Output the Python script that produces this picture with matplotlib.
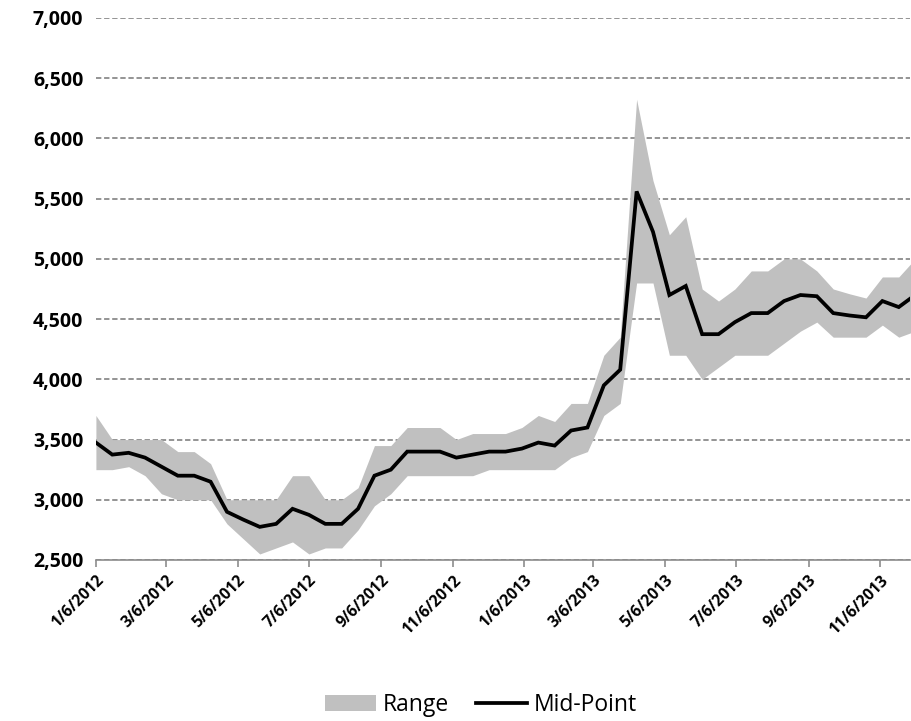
import matplotlib
matplotlib.use('Agg')
import matplotlib.pyplot as plt
from matplotlib.patches import Patch
from matplotlib.lines import Line2D
from matplotlib.ticker import FuncFormatter
import pandas as pd

# biweekly observations starting 1/6/2012
start_date = '2012-01-06'
n_points = 51

range_low = [3250, 3250, 3275, 3200, 3050, 3000, 3000, 3000, 2800, 2675,
             2550, 2600, 2650, 2550, 2600, 2600, 2750, 2950, 3050, 3200,
             3200, 3200, 3200, 3200, 3250, 3250, 3250, 3250, 3250, 3350,
             3400, 3700, 3800, 4800, 4800, 4200, 4200, 4000, 4100, 4200,
             4200, 4200, 4300, 4400, 4475, 4350, 4350, 4350, 4450, 4350,
             4400]
range_high = [3700, 3500, 3500, 3500, 3500, 3400, 3400, 3300, 3000, 3000,
              3000, 3000, 3200, 3200, 3000, 3000, 3100, 3450, 3450, 3600,
              3600, 3600, 3500, 3550, 3550, 3550, 3600, 3700, 3650, 3800,
              3800, 4200, 4350, 6325, 5650, 5200, 5350, 4750, 4650, 4750,
              4900, 4900, 5000, 5000, 4900, 4750, 4710, 4675, 4850, 4850,
              5000]
mid_point = [3475, 3375, 3390, 3350, 3275, 3200, 3200, 3150, 2900, 2835,
             2775, 2800, 2925, 2875, 2800, 2800, 2925, 3200, 3250, 3400,
             3400, 3400, 3350, 3375, 3400, 3400, 3425, 3475, 3450, 3575,
             3600, 3950, 4080, 5560, 5225, 4700, 4775, 4375, 4375, 4475,
             4550, 4550, 4650, 4700, 4690, 4550, 4530, 4515, 4650, 4600,
             4700]

tick_labels = ['1/6/2012', '3/6/2012', '5/6/2012', '7/6/2012', '9/6/2012',
               '11/6/2012', '1/6/2013', '3/6/2013', '5/6/2013', '7/6/2013',
               '9/6/2013', '11/6/2013']
y_ticks = [2500, 3000, 3500, 4000, 4500, 5000, 5500, 6000, 6500, 7000]

dates = pd.date_range(start_date, periods=n_points, freq='14D')
tick_dates = pd.to_datetime(tick_labels, format='%m/%d/%Y')

plt.rcParams['font.family'] = ['Open Sans', 'DejaVu Sans']

fig = plt.figure(figsize=(9.11, 7.21), dpi=100)
ax = fig.add_axes([95.9 / 911, 1 - 560 / 721, (910 - 95.9) / 911, (560 - 18) / 721])

band_color = '#c0c0c0'
ax.fill_between(dates, range_low, range_high, color=band_color, linewidth=0, zorder=2)
ax.plot(dates, mid_point, color='black', linewidth=2.7, zorder=3, solid_joinstyle='miter')

ax.set_xlim(pd.Timestamp(start_date), pd.Timestamp(start_date) + pd.Timedelta(days=695.6))
ax.set_ylim(2500, 7000)
ax.set_yticks(y_ticks)
ax.yaxis.set_major_formatter(FuncFormatter(lambda v, p: f'{int(v):,}'))
ax.set_xticks(tick_dates)
ax.set_xticklabels(tick_labels)

ax.set_axisbelow(True)
ax.yaxis.grid(True, color='#777777', linestyle=(0, (3.5, 1.8)), linewidth=1.1)
ax.xaxis.grid(False)

for side in ['top', 'right', 'left']:
    ax.spines[side].set_visible(False)
ax.spines['bottom'].set_color('#8c8c8c')
ax.spines['bottom'].set_linewidth(1.2)
ax.spines['bottom'].set_zorder(4)

ax.tick_params(axis='y', length=0, pad=9, labelsize=14)
ax.tick_params(axis='x', length=5, width=1.2, color='#8c8c8c', direction='out', pad=4, labelsize=11.3)
for lbl in ax.get_yticklabels():
    lbl.set_fontweight('bold')
for lbl in ax.get_xticklabels():
    lbl.set_fontweight('bold')
    lbl.set_rotation(45)
    lbl.set_ha('right')
    lbl.set_va('top')
    lbl.set_rotation_mode('anchor')

handles = [Patch(facecolor=band_color, edgecolor='none'),
           Line2D([], [], color='black', linewidth=2.7)]
fig.legend(handles, ['Range', 'Mid-Point'], loc='center',
           bbox_to_anchor=(481 / 911, 1 - 705 / 721), ncol=2, frameon=False,
           fontsize=16.5, handlelength=2.2, handleheight=0.75,
           handletextpad=0.3, columnspacing=1.2)

fig.savefig('out.png', dpi=100)
